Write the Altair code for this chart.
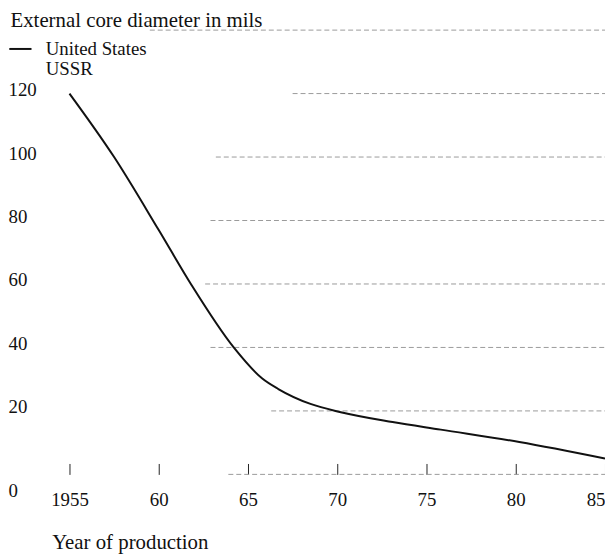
import altair as alt
import pandas as pd

# --- data -------------------------------------------------------------------
years = [1955, 1957.5, 1960, 1961.8, 1964.2, 1965.8, 1966.7, 1968.5,
         1970.2, 1973.1, 1975.8, 1980.2, 1985]
us_diameter = [120, 100, 77, 60, 40, 30.2, 26.9, 22.2,
               19.6, 16.5, 14.1, 10.2, 5]

series_names = ["United States", "USSR"]
series_colors = ["#111111", "#ffffff"]

grid_levels = [0, 20, 40, 60, 80, 100, 120, 140]
grid_start = [1963.9, 1966.3, 1962.9, 1962.6, 1962.9, 1963.2, 1967.5, 1959.5]
grid_end = [1985] * len(grid_levels)

x_ticks = [1955, 1960, 1965, 1970, 1975, 1980, 1985]
y_ticks = [0, 20, 40, 60, 80, 100, 120]

x_title = "Year of production"
y_title = "External core diameter in mils"

# --- tables -----------------------------------------------------------------
line_df = pd.DataFrame({"year": years, "value": us_diameter,
                        "series": ["United States"] * len(years)})
grid_df = pd.DataFrame({"start": grid_start, "end": grid_end, "level": grid_levels})

FONT = "Liberation Serif"

x_scale = alt.Scale(domain=[1955, 1985], nice=False, zero=False)
y_scale = alt.Scale(domain=[0, 140], nice=False)

x_axis = alt.Axis(
    values=x_ticks,
    offset=-11,
    domain=False,
    grid=False,
    ticks=True,
    tickSize=11,
    tickWidth=1,
    tickColor="#222222",
    labelFlush=False,
    labelOverlap=False,
    labelExpr="datum.value == 1955 ? '1955' : substring(toString(datum.value), 2, 4)",
    labelAlign={"condition": {"test": "datum.value == 1985", "value": "right"}, "value": "center"},
    labelFont=FONT,
    labelFontSize=19,
    labelColor="#111111",
    labelPadding=16,
    title=x_title,
    titleFont=FONT,
    titleFontSize=21,
    titleFontWeight="normal",
    titleColor="#111111",
    titleAlign="left",
    titleBaseline="middle",
    titleX=-18,
    titleY=80,
)

y_axis = alt.Axis(
    values=y_ticks,
    domain=False,
    grid=False,
    ticks=False,
    tickSize=0,
    labelAlign="left",
    labelPadding=62,
    labelOffset={"condition": {"test": "datum.value == 0", "value": 16}, "value": -4},
    labelFont=FONT,
    labelFontSize=19,
    labelColor="#111111",
    title=y_title,
    titleFont=FONT,
    titleFontSize=21,
    titleFontWeight="normal",
    titleColor="#111111",
    titleAngle=0,
    titleAlign="left",
    titleBaseline="middle",
    titleX=-60,
    titleY=-10,
)

grid = alt.Chart(grid_df).mark_rule(
    color="#9a9a9a", strokeWidth=1, strokeDash=[5, 3]
).encode(
    x=alt.X("start:Q", scale=x_scale, axis=x_axis, title=x_title),
    x2="end:Q",
    y=alt.Y("level:Q", scale=y_scale, axis=y_axis, title=y_title),
)

line = alt.Chart(line_df).mark_line(
    interpolate="monotone", strokeWidth=2
).encode(
    x=alt.X("year:Q", scale=x_scale, axis=x_axis, title=x_title),
    y=alt.Y("value:Q", scale=y_scale, axis=y_axis, title=y_title),
    color=alt.Color(
        "series:N",
        scale=alt.Scale(domain=series_names, range=series_colors),
        legend=alt.Legend(
            title=None,
            orient="none",
            legendX=-59,
            legendY=9.5,
            padding=0,
            symbolType="M-1.4,0L1.4,0",
            symbolSize=256,
            symbolStrokeWidth=2,
            symbolFillColor="transparent",
            rowPadding=0,
            labelOffset=16,
            labelFont=FONT,
            labelFontSize=19,
            labelColor="#111111",
        ),
    ),
)

chart = alt.layer(grid, line).properties(
    width=540,
    height=448,
    padding={"left": 62, "top": 20, "right": 0, "bottom": 80},
    autosize=alt.AutoSizeParams(type="none"),
    background="white",
).configure_view(stroke=None)

chart.save("out.html", embed_options={"renderer": "svg", "actions": False})
